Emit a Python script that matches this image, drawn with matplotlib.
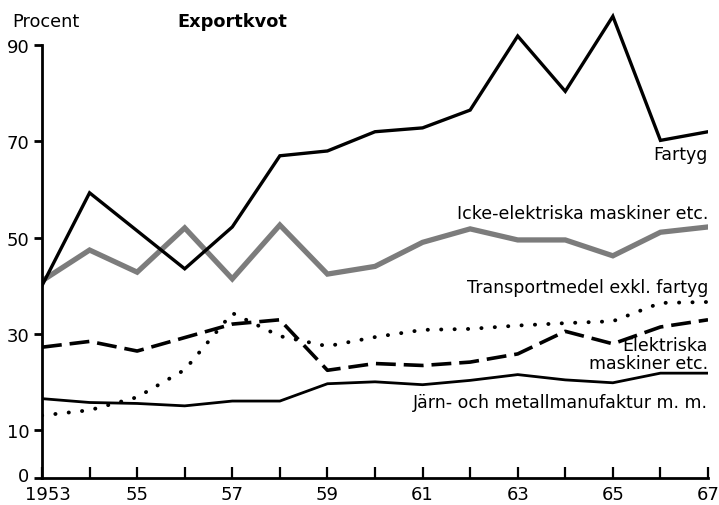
import numpy as np
import matplotlib
matplotlib.use("Agg")
from matplotlib import pyplot as plt
from matplotlib import transforms

plt.rcParams['font.family'] = ['DejaVu Sans']

years = np.arange(1953, 1968)

# Exportkvot, procent
fartyg = [40, 59.3, 51.4, 43.5, 52.2, 67, 68, 72, 72.8, 76.5, 91.9, 80.4, 96, 70.2, 72]
icke_el = [41, 47.4, 42.8, 52, 41.4, 52.6, 42.4, 44, 49, 51.8, 49.5, 49.5, 46.2, 51.1, 52.2]
transport = [13, 14.1, 16.8, 22.5, 34.3, 29.5, 27.4, 29.3, 30.8, 31, 31.7, 32.2, 32.6, 36.4, 36.6]
elektriska = [27.2, 28.4, 26.4, 29.2, 32, 32.9, 22.4, 23.8, 23.4, 24.1, 25.8, 30.5, 27.9, 31.4, 32.9]
jarn = [16.5, 15.7, 15.5, 15, 16, 16, 19.6, 20, 19.4, 20.3, 21.5, 20.4, 19.8, 21.8, 21.8]

xticks = [1953, 1955, 1957, 1959, 1961, 1963, 1965, 1967]
xlabels = ['1953', '55', '57', '59', '61', '63', '65', '67']
yticks = [0, 10, 30, 50, 70, 90]

fig = plt.figure(figsize=(7.19, 5.06), dpi=100)
ax = fig.add_axes([42/719, 27/506, 666/719, 479/506])
ax.set_xlim(1953, 1967)
ax.set_ylim(0, 99.6)

ax.plot(years, jarn, color='black', lw=2.0, solid_joinstyle='miter')
ax.plot(years, transport, color='black', lw=2.8, linestyle=(0, (0.05, 3.4)), dash_capstyle='round')
ax.plot(years, elektriska, color='black', lw=2.6, linestyle=(0, (5.5, 2.2)))
ax.plot(years, icke_el, color='#7c7c7c', lw=3.8, solid_joinstyle='miter')
ax.plot(years, fartyg, color='black', lw=2.4, solid_joinstyle='miter')

for s in ['top', 'right']:
    ax.spines[s].set_visible(False)
ax.spines['left'].set_bounds(0, 90)
ax.spines['left'].set_linewidth(2)
ax.spines['bottom'].set_linewidth(2)

ax.set_xticks(xticks)
ax.set_xticklabels(xlabels)
ax.set_xticks(years, minor=True)
ax.tick_params(axis='x', which='both', direction='in', length=8, width=1.6, labelsize=13, pad=5)
ax.set_yticks(yticks)
ax.tick_params(axis='y', direction='out', length=6, width=2, labelsize=13, pad=3)

# nolla lite upp, 1953 lite till hoger
nolla = ax.get_yticklabels()[0]
nolla.set_transform(nolla.get_transform() + transforms.ScaledTranslation(0, 4/100, fig.dpi_scale_trans))
forsta = ax.get_xticklabels()[0]
forsta.set_transform(forsta.get_transform() + transforms.ScaledTranslation(6/100, 0, fig.dpi_scale_trans))

kw = dict(ha='right', fontsize=12.5, color='black')
ax.text(1967, 67.3, 'Fartyg', va='center', **kw)
ax.text(1967, 55, 'Icke-elektriska maskiner etc.', va='center', **kw)
ax.text(1967, 39.7, 'Transportmedel exkl. fartyg', va='center', **kw)
ax.text(1967, 25.8, 'Elektriska\nmaskiner etc.', va='center', linespacing=0.95, **kw)
ax.text(1967, 15.8, 'Järn- och metallmanufaktur m. m.', va='center', **kw)

fig.text(12/719, 1 - 22/506, 'Procent', fontsize=12.8, va='center', ha='left')
fig.text(177/719, 1 - 22/506, 'Exportkvot', fontsize=12.8, fontweight='bold', va='center', ha='left')

fig.savefig('out.png', dpi=100)
